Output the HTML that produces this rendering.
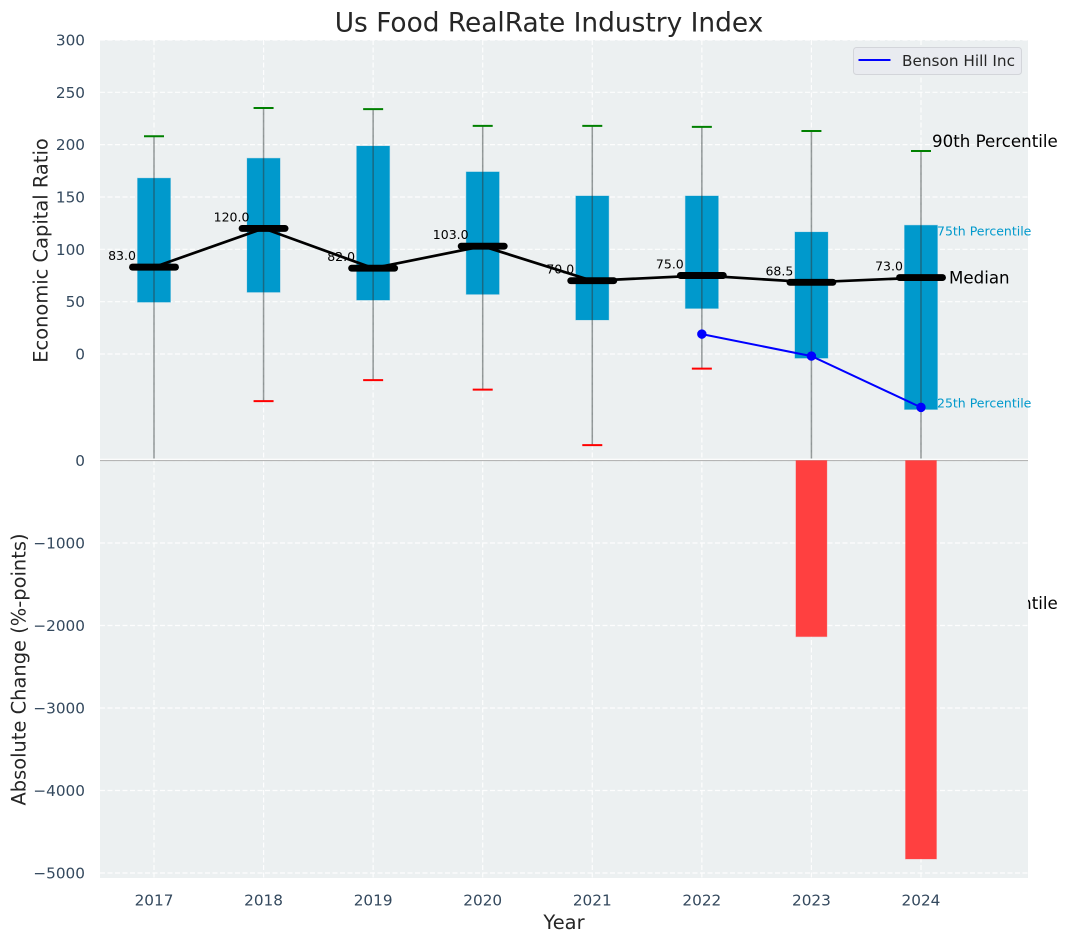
<!DOCTYPE html>
<html>
<head>
<meta charset="utf-8">
<title>Us Food RealRate Industry Index</title>
<style>
html,body{margin:0;padding:0;background:#fff;width:1067px;height:942px;overflow:hidden}
svg{display:block}
text{font-family:"DejaVu Sans","Liberation Sans",sans-serif}
</style>
</head>
<body>
<svg id="chart" xmlns="http://www.w3.org/2000/svg" width="1067" height="942" viewBox="0 0 1067 942"></svg>
<script>
const years = [2017, 2018, 2019, 2020, 2021, 2022, 2023, 2024];
const p90 = [208, 235, 234, 218, 218, 217, 213, 194];
const p75 = [168, 187, 198.7, 174, 151, 151, 116.5, 123];
const medians = [83, 120, 82, 103, 70, 75, 68.5, 73];
const p25 = [49.5, 59, 51.5, 57, 32.5, 43.5, -4, -53];
const p10 = [-130, -45, -25, -34, -87, -14, -130, -130];
const bensonYears = [2022, 2023, 2024];
const bensonValues = [19, -2, -51];
const changeYears = [2023, 2024];
const changeValues = [-2135, -4830];
const topTicks = [0, 50, 100, 150, 200, 250, 300];
const bottomTicks = [0, -1000, -2000, -3000, -4000, -5000];

const NS = 'http://www.w3.org/2000/svg';
const svg = document.getElementById('chart');
const L = 100, R = 1028, TT = 40, TB = 459, BT = 460, BB = 878;
const xPos = y => 154 + (y - 2017) * 109.57;
const yTop = v => 354 - v * 1.0467;
const yBot = v => 460.5 - v * 0.0825;

function el(parentNode, tag, attrs, txt) {
  const e = document.createElementNS(NS, tag);
  for (const k in attrs) e.setAttribute(k, attrs[k]);
  if (txt !== undefined) e.textContent = txt;
  parentNode.appendChild(e);
  return e;
}
function fmt(v) { return String(v).replace('-', '\u2212'); }

const defs = el(svg, 'defs', {});
const cp = el(defs, 'clipPath', { id: 'top-clip' });
el(cp, 'rect', { x: L, y: TT, width: R - L, height: TB - TT - 0.5 });

/* title and axis titles */
const chartTitle = el(svg, 'text', { x: 549, y: 31.5, 'text-anchor': 'middle', 'font-size': 26.4, fill: '#262626' }, 'Us Food RealRate Industry Index');


const yl1 = el(svg, 'text', { transform: 'translate(47.5,250.5) rotate(-90)', 'text-anchor': 'middle', 'font-size': 19.44, fill: '#262626' }, 'Economic Capital Ratio');


const yl2 = el(svg, 'text', { transform: 'translate(25.5,669.5) rotate(-90)', 'text-anchor': 'middle', 'font-size': 19.44, fill: '#262626' }, 'Absolute Change (%-points)');


const xl = el(svg, 'text', { x: 564, y: 929, 'text-anchor': 'middle', 'font-size': 19.44, fill: '#262626' }, 'Year');



/* top axes */
const topPanel = el(svg, 'g', {});


const topBg = el(topPanel, 'rect', { x: L, y: TT, width: R - L, height: TB - TT, fill: '#ecf0f1' });



topTicks.forEach(t => {
  const g = el(topPanel, 'line', { x1: L, x2: R, y1: yTop(t), y2: yTop(t), stroke: '#fff', 'stroke-width': 1.2, 'stroke-dasharray': '5 2.5', opacity: 0.9 });
  
  
  const lb = el(svg, 'text', { x: 85, y: yTop(t) + 5.5, 'text-anchor': 'end', 'font-size': 15.28, fill: '#34495e' }, fmt(t));
  
  
});
years.forEach(y => {
  const g = el(topPanel, 'line', { x1: xPos(y), x2: xPos(y), y1: TT, y2: TB, stroke: '#fff', 'stroke-width': 1.2, 'stroke-dasharray': '5 2.5', opacity: 0.9 });
  
  
});

const plot = el(topPanel, 'g', { 'clip-path': 'url(#top-clip)' });



years.forEach((y, i) => {
  const cx = xPos(y);
  const box = el(plot, 'rect', { x: cx - 16.5, y: yTop(p75[i]), width: 33, height: yTop(p25[i]) - yTop(p75[i]), fill: '#0099cc', stroke: '#0099cc', 'stroke-opacity': 0.25, 'stroke-width': 1 });
  
  
  const lab = el(plot, 'text', { x: cx - 32, y: yTop(medians[i]) - 7, 'text-anchor': 'middle', 'font-size': 12.5, fill: '#000' }, medians[i].toFixed(1));
  
  
});

const medLine = el(plot, 'polyline', { points: years.map((y, i) => xPos(y) + ',' + yTop(medians[i])).join(' '), fill: 'none', stroke: '#000', 'stroke-width': 2.7 });



years.forEach((y, i) => {
  const cx = xPos(y);
  const wh = el(plot, 'line', { x1: cx, x2: cx, y1: yTop(p90[i]), y2: yTop(p10[i]), stroke: '#2f3a3a', 'stroke-opacity': 0.5, 'stroke-width': 1.5 });
  
  
  const c1 = el(plot, 'line', { x1: cx - 10, x2: cx + 10, y1: yTop(p90[i]), y2: yTop(p90[i]), stroke: '#008000', 'stroke-width': 2 });
  
  
  const c2 = el(plot, 'line', { x1: cx - 10, x2: cx + 10, y1: yTop(p10[i]), y2: yTop(p10[i]), stroke: '#ff0000', 'stroke-width': 2 });
  
  
  const m = el(plot, 'line', { x1: cx - 21.5, x2: cx + 21.5, y1: yTop(medians[i]), y2: yTop(medians[i]), stroke: '#000', 'stroke-width': 6.9, 'stroke-linecap': 'round' });
  
  
});

const bl = el(plot, 'polyline', { points: bensonYears.map((y, i) => xPos(y) + ',' + yTop(bensonValues[i])).join(' '), fill: 'none', stroke: '#0000ff', 'stroke-width': 2 });


bensonYears.forEach((y, i) => {
  const p = el(plot, 'circle', { cx: xPos(y), cy: yTop(bensonValues[i]), r: 4.7, fill: '#0000ff' });
  
  
});

/* percentile annotations */
const a90 = el(svg, 'text', { x: 932, y: 147, 'font-size': 16.67, fill: '#000' }, '90th Percentile');


const a50 = el(svg, 'text', { x: 949, y: 283.5, 'font-size': 16.67, fill: '#000' }, 'Median');


const a75 = el(svg, 'text', { x: 937, y: 235.3, 'font-size': 12.5, fill: '#0099cc' }, '75th Percentile');


const a25 = el(svg, 'text', { x: 937, y: 407.3, 'font-size': 12.5, fill: '#0099cc' }, '25th Percentile');


const a10 = el(svg, 'text', { x: 932, y: 609, 'font-size': 16.67, fill: '#000' }, '10th Percentile');



/* legend */
const lg = el(svg, 'g', {});


const lgBox = el(lg, 'rect', { x: 853.5, y: 47.5, width: 168, height: 27, rx: 3, fill: '#e9ebf0', stroke: '#d3d5da', 'stroke-width': 1 });


const lgLine = el(lg, 'line', { x1: 858.5, x2: 890.5, y1: 60, y2: 60, stroke: '#0000ff', 'stroke-width': 2 });


const lgText = el(lg, 'text', { x: 902, y: 66, 'font-size': 15.28, fill: '#262626' }, 'Benson Hill Inc');



/* bottom axes */
const botPanel = el(svg, 'g', {});


const botBg = el(botPanel, 'rect', { x: L, y: BT, width: R - L, height: BB - BT, fill: '#ecf0f1' });


const sep = el(svg, 'line', { x1: L, x2: R, y1: 459.3, y2: 459.3, stroke: '#fff', 'stroke-width': 1.2 });



bottomTicks.forEach(t => {
  const g = el(botPanel, 'line', { x1: L, x2: R, y1: yBot(t), y2: yBot(t), stroke: '#fff', 'stroke-width': 1.2, 'stroke-dasharray': '5 2.5', opacity: 0.9 });
  
  
  const lb = el(svg, 'text', { x: 85, y: yBot(t) + 5.5, 'text-anchor': 'end', 'font-size': 15.28, fill: '#34495e' }, fmt(t));
  
  
});
years.forEach(y => {
  const g = el(botPanel, 'line', { x1: xPos(y), x2: xPos(y), y1: BT, y2: BB, stroke: '#fff', 'stroke-width': 1.2, 'stroke-dasharray': '5 2.5', opacity: 0.9 });
  
  
  const lb = el(svg, 'text', { x: xPos(y), y: 905.5, 'text-anchor': 'middle', 'font-size': 15.28, fill: '#34495e' }, String(y));
  
  
});
const zero = el(botPanel, 'line', { x1: L, x2: R, y1: 460.5, y2: 460.5, stroke: '#b5b5b5', 'stroke-width': 1.2 });


changeYears.forEach((y, i) => {
  const b = el(botPanel, 'rect', { x: xPos(y) - 15.5, y: yBot(0), width: 31, height: yBot(changeValues[i]) - yBot(0), fill: '#ff4040', stroke: '#ff4040', 'stroke-opacity': 0.3, 'stroke-width': 1 });
  
  
});
</script>
</body>
</html>
